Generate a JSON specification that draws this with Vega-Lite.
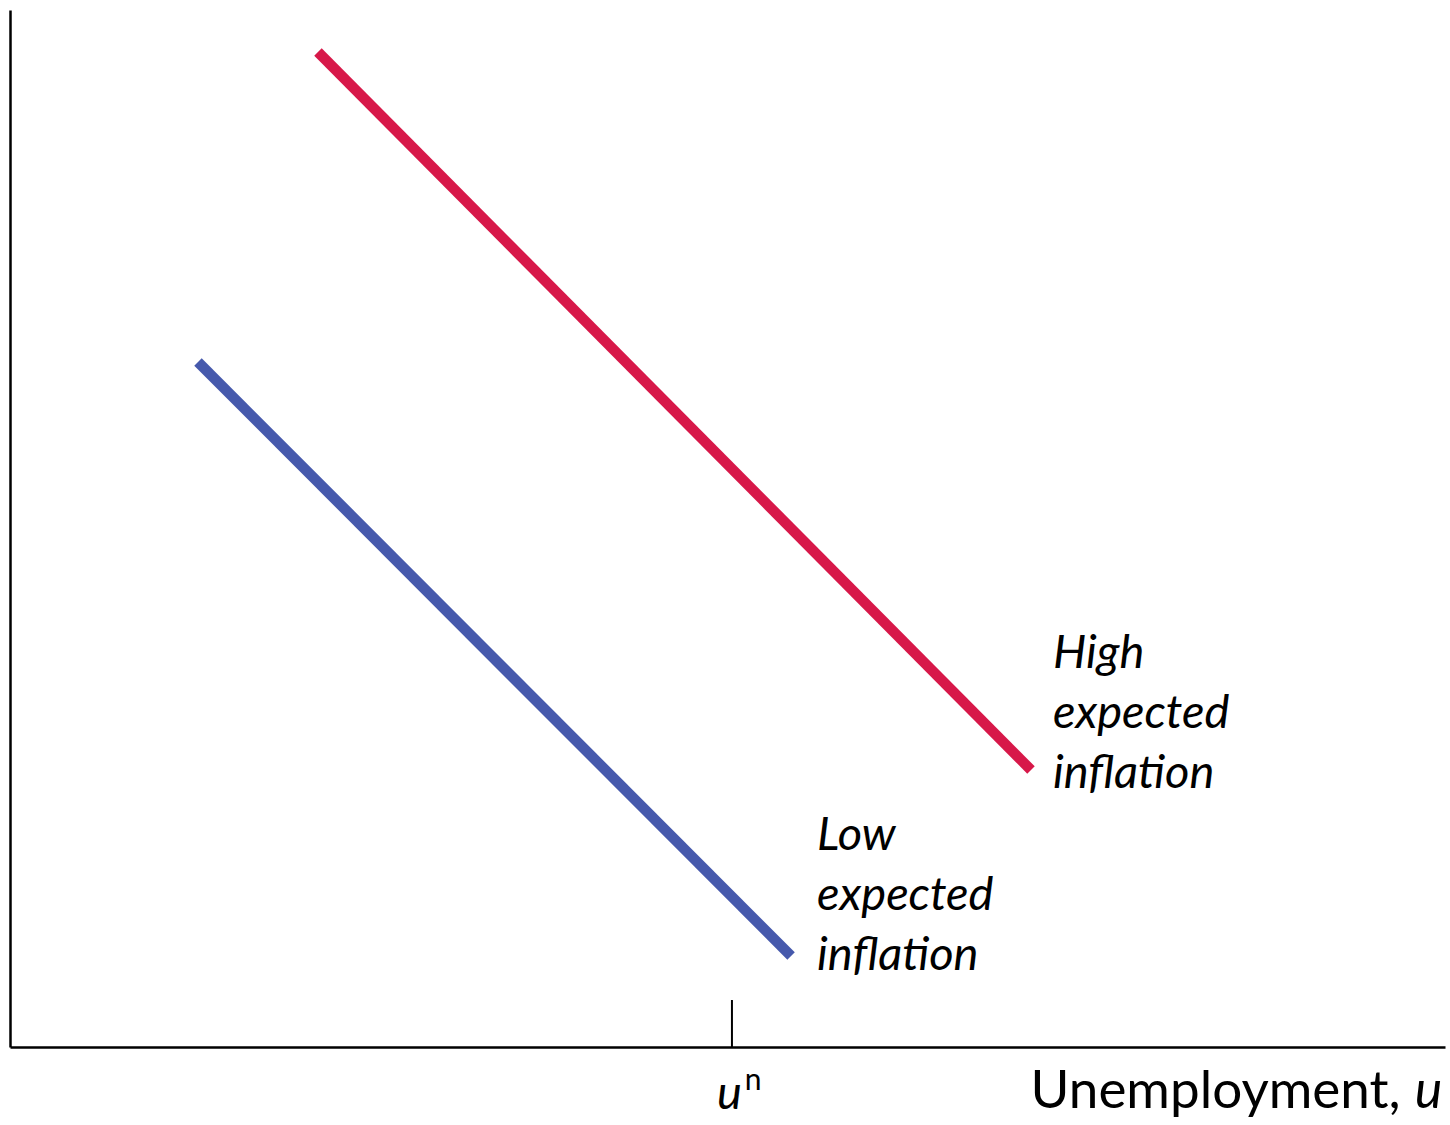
{
  "$schema": "https://vega.github.io/schema/vega-lite/v6.json",
  "background": "white",
  "autosize": {"type": "none"},
  "padding": {"left": 10, "top": 10, "right": 5, "bottom": 78},
  "width": 1435,
  "height": 1037,
  "config": {
    "view": {"stroke": null},
    "text": {"font": "Lato", "color": "black"}
  },
  "datasets": {
    "curves": [
      {"curve": "High expected inflation", "x": 2.146, "y": 9.595},
      {"curve": "High expected inflation", "x": 7.115, "y": 2.671},
      {"curve": "Low expected inflation", "x": 1.31, "y": 6.606},
      {"curve": "Low expected inflation", "x": 5.443, "y": 0.878}
    ],
    "natural": [
      {"x": 5.031, "y": 0, "y2": 0.453}
    ],
    "curveLabels": [
      {"x": 7.268, "y": 3.655, "label": "High\nexpected\ninflation"},
      {"x": 5.624, "y": 1.9, "label": "Low\nexpected\ninflation"}
    ]
  },
  "encoding": {
    "x": {
      "field": "x",
      "type": "quantitative",
      "scale": {"domain": [0, 10], "nice": false, "zero": false},
      "axis": {
        "title": null,
        "labels": false,
        "ticks": false,
        "grid": false,
        "domainColor": "black",
        "domainWidth": 2.5
      }
    },
    "y": {
      "field": "y",
      "type": "quantitative",
      "scale": {"domain": [0, 10], "nice": false, "zero": false},
      "axis": {
        "title": null,
        "labels": false,
        "ticks": false,
        "grid": false,
        "domainColor": "black",
        "domainWidth": 2.5
      }
    }
  },
  "layer": [
    {
      "data": {"name": "curves"},
      "mark": {"type": "line", "strokeWidth": 10.5, "strokeCap": "butt", "clip": false},
      "encoding": {
        "color": {
          "field": "curve",
          "type": "nominal",
          "scale": {
            "domain": ["High expected inflation", "Low expected inflation"],
            "range": ["#D71849", "#4659AC"]
          },
          "legend": null
        }
      }
    },
    {
      "data": {"name": "natural"},
      "mark": {"type": "rule", "color": "black", "strokeWidth": 2},
      "encoding": {
        "y2": {"field": "y2"}
      }
    },
    {
      "data": {"name": "curveLabels"},
      "mark": {
        "type": "text",
        "align": "left",
        "baseline": "alphabetic",
        "fontSize": 47,
        "fontStyle": "italic",
        "lineBreak": "\n",
        "lineHeight": 60
      },
      "encoding": {
        "text": {"field": "label"}
      }
    },
    {
      "data": {"values": [{"x": 4.927, "y": -0.6, "t": "u"}]},
      "mark": {"type": "text", "align": "left", "baseline": "alphabetic", "fontSize": 47, "fontStyle": "italic"},
      "encoding": {"text": {"field": "t"}}
    },
    {
      "data": {"values": [{"x": 5.12, "y": -0.41, "t": "n"}]},
      "mark": {"type": "text", "align": "left", "baseline": "alphabetic", "fontSize": 30},
      "encoding": {"text": {"field": "t"}}
    },
    {
      "data": {"values": [{"x": 9.69, "y": -0.588, "t": "Unemployment,"}]},
      "mark": {"type": "text", "align": "right", "baseline": "alphabetic", "fontSize": 53},
      "encoding": {"text": {"field": "t"}}
    },
    {
      "data": {"values": [{"x": 9.79, "y": -0.588, "t": "u"}]},
      "mark": {"type": "text", "align": "left", "baseline": "alphabetic", "fontSize": 52, "fontStyle": "italic"},
      "encoding": {"text": {"field": "t"}}
    }
  ]
}
